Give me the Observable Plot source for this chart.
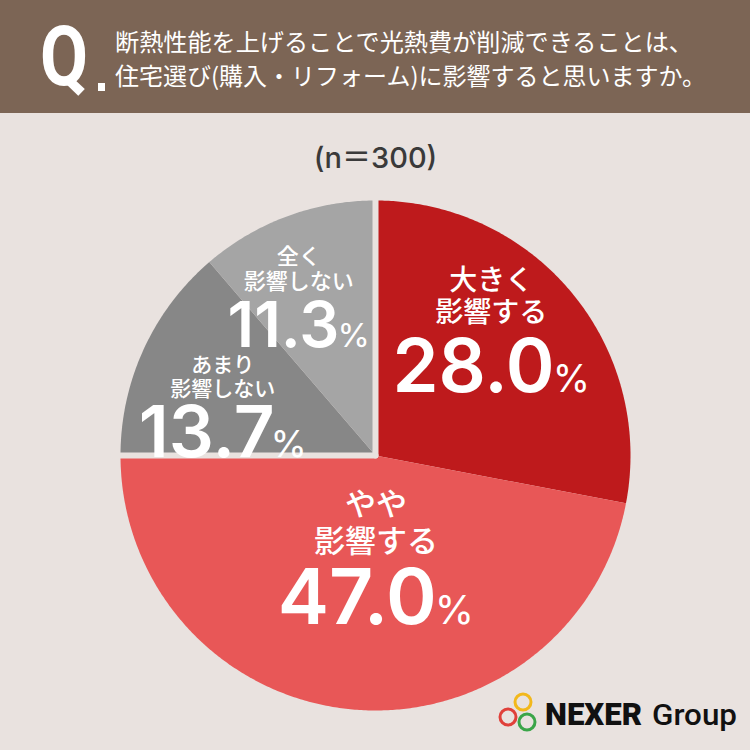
<!DOCTYPE html>
<html><head><meta charset="utf-8">
<script src="https://cdn.jsdelivr.net/npm/d3@7"></script>
<script src="https://cdn.jsdelivr.net/npm/@observablehq/plot@0.6"></script>
<style>
html,body{margin:0;padding:0;background:#e9e2df;}
#wrap{position:relative;width:750px;height:750px;overflow:hidden;background:#e9e2df;}
#header{position:absolute;left:0;top:0;}
#chart{position:absolute;left:0;top:113px;}
#logo{position:absolute;left:0;top:0;pointer-events:none;}
</style></head>
<body><div id="wrap">
<svg id="header" width="750" height="113">
  <rect width="750" height="113" fill="#7c6555"/>
  <text id="qmark" x="40" y="85" font-family="Roboto" font-weight="700" font-size="84" fill="#fff" textLength="48" lengthAdjust="spacingAndGlyphs">Q</text>
  <rect x="98" y="83" width="7" height="8" fill="#fff"/>
  <text id="q1" x="115" y="40" dominant-baseline="central" font-family="Noto Sans CJK JP" font-size="24" fill="#fff" textLength="578" lengthAdjust="spacingAndGlyphs"></text>
  <text id="q2" x="115" y="74" dominant-baseline="central" font-family="Noto Sans CJK JP" font-size="24" fill="#fff"></text>
</svg>
<div id="chart"></div>
<svg id="logo" width="750" height="750">
  <circle cx="523" cy="702" r="8" fill="none" stroke="#f2b81c" stroke-width="3"/>
  <circle cx="508" cy="717" r="8" fill="none" stroke="#e0403a" stroke-width="3"/>
  <circle cx="527" cy="722" r="8" fill="none" stroke="#3aa548" stroke-width="3"/>
  <text x="545" y="725" font-family="Roboto" font-weight="900" font-size="31" fill="#111" textLength="97" lengthAdjust="spacingAndGlyphs">NEXER</text>
  <text x="652" y="725" font-family="Roboto" font-weight="500" font-size="30" fill="#111" textLength="85" lengthAdjust="spacingAndGlyphs">Group</text>
</svg>
</div>
<script>
// ---- data ----
const questionLines = ["断熱性能を上げることで光熱費が削減できることは、", "住宅選び(購入・リフォーム)に影響すると思いますか。"];
const categories = ["大きく影響する", "やや影響する", "あまり影響しない", "全く影響しない"];
const labelLines = [["大きく", "影響する"], ["やや", "影響する"], ["あまり", "影響しない"], ["全く", "影響しない"]];
const values = [28.0, 47.0, 13.7, 11.3];
const sampleSize = 300;
const colors = ["#be1a1c", "#e85757", "#878787", "#a5a5a5"];
const separatedGroup = ["あまり影響しない", "全く影響しない"];

document.getElementById("q1").textContent = questionLines[0];
document.getElementById("q2").textContent = questionLines[1];

// ---- layout / style ----
const W = 750, H = 637, R = 255, CX = 375, CY = 342;
const bg = "#e9e2df";
const labelStyle = [
  {rFrac: 0.66, nudge: [-14, -17], lineSize: 28, lineDy: [-50, -18], numSize: 74, pctRatio: 0.52, pctDx: -2, numDy: 34},
  {rFrac: 0.40, nudge: [10, 0],    lineSize: 31, lineDy: [-52, -15], numSize: 77, pctRatio: 0.52, pctDx: -2, numDy: 39},
  {rFrac: 0.65, nudge: [-2, 21],   lineSize: 21, lineDy: [-42, -18], numSize: 71, pctRatio: 0.52, pctDx: -4, numDy: 24},
  {rFrac: 0.686, nudge: [-16, 6],  lineSize: 22, lineDy: [-41, -16], numSize: 63, pctRatio: 0.52, pctDx: -2, numDy: 27}
];

const total = d3.sum(values);
let acc = 0;
const slices = values.map((v, i) => {
  const a0 = acc / total * 2 * Math.PI;
  acc += v;
  const a1 = acc / total * 2 * Math.PI;
  return {cat: categories[i], value: v, a0, a1, i};
});

// slice polygons
const polyPts = [];
for (const s of slices) {
  polyPts.push({cat: s.cat, x: 0, y: 0});
  const n = Math.max(2, Math.ceil((s.a1 - s.a0) / (Math.PI / 360)));
  for (let k = 0; k <= n; k++) {
    const a = s.a0 + (s.a1 - s.a0) * k / n;
    polyPts.push({cat: s.cat, x: Math.sin(a), y: Math.cos(a)});
  }
}

// separator lines around gray group
const grp = slices.filter(s => separatedGroup.includes(s.cat));
const sepAngles = [d3.min(grp, s => s.a0), d3.max(grp, s => s.a1)];
const sepPts = [];
sepAngles.forEach((a, j) => {
  sepPts.push({z: j, x: 0, y: 0});
  sepPts.push({z: j, x: Math.sin(a) * 1.03, y: Math.cos(a) * 1.03});
});

// labels
const lineText = [], numText = [];
slices.forEach((s, i) => {
  const st = labelStyle[i];
  const mid = (s.a0 + s.a1) / 2;
  const px = CX + Math.sin(mid) * R * st.rFrac + st.nudge[0];
  const py = CY - Math.cos(mid) * R * st.rFrac + st.nudge[1];
  labelLines[i].forEach((t, k) => {
    lineText.push({text: t, size: st.lineSize, x: (px - CX) / R, y: (CY - (py + st.lineDy[k])) / R});
  });
  const base = py + st.numDy + st.numSize * 0.36;
  numText.push({text: s.value.toFixed(1) + "%", size: st.numSize, ratio: st.pctRatio, pdx: st.pctDx, x: (px - CX) / R, y: (CY - base) / R});
});

const plot = Plot.plot({
  width: W, height: H, margin: 0,
  x: {domain: [-CX / R, (W - CX) / R], axis: null},
  y: {domain: [-(H - CY) / R, CY / R], axis: null},
  color: {domain: categories, range: colors},
  style: {background: "transparent", overflow: "visible"},
  marks: [
    Plot.line(polyPts, {x: "x", y: "y", z: "cat", fill: "cat", stroke: "none", curve: "linear-closed"}),
    Plot.line(sepPts, {x: "x", y: "y", z: "z", stroke: bg, strokeWidth: 6}),
    Plot.text([`(n＝${sampleSize})`], {frameAnchor: "top", dy: 45, lineAnchor: "middle", text: d => d, fontSize: 29, fill: "#3a3a3a", fontFamily: "Inter, 'Noto Sans CJK JP', sans-serif", fontWeight: 500}),
    Plot.text(lineText, {x: "x", y: "y", text: "text", fontSize: "size", fill: "#fff", fontFamily: "'Noto Sans CJK JP', sans-serif", fontWeight: 500, lineAnchor: "middle"}),
    Plot.text(numText, {x: "x", y: "y", text: "text", fontSize: "size", fill: "#fff", textAnchor: "middle", lineAnchor: "bottom", fontFamily: "Inter, sans-serif", fontWeight: 600})
  ]
});

// render the "%" sign smaller, as a tspan of the same text element
const pctNodes = Array.from(plot.querySelectorAll("text")).filter(n => /%$/.test(n.textContent));
pctNodes.forEach((node, i) => {
  const d = numText[i];
  const num = node.textContent.slice(0, -1);
  while (node.firstChild) node.removeChild(node.firstChild);
  node.appendChild(document.createTextNode(num));
  const ts = document.createElementNS("http://www.w3.org/2000/svg", "tspan");
  ts.setAttribute("font-size", Math.round(d.size * d.ratio));
  ts.style.fontSize = Math.round(d.size * d.ratio) + "px";
  ts.setAttribute("font-weight", "400");
  ts.setAttribute("dx", d.pdx);
  ts.textContent = "%";
  node.appendChild(ts);
});
document.getElementById("chart").appendChild(plot);
</script>
</body></html>
